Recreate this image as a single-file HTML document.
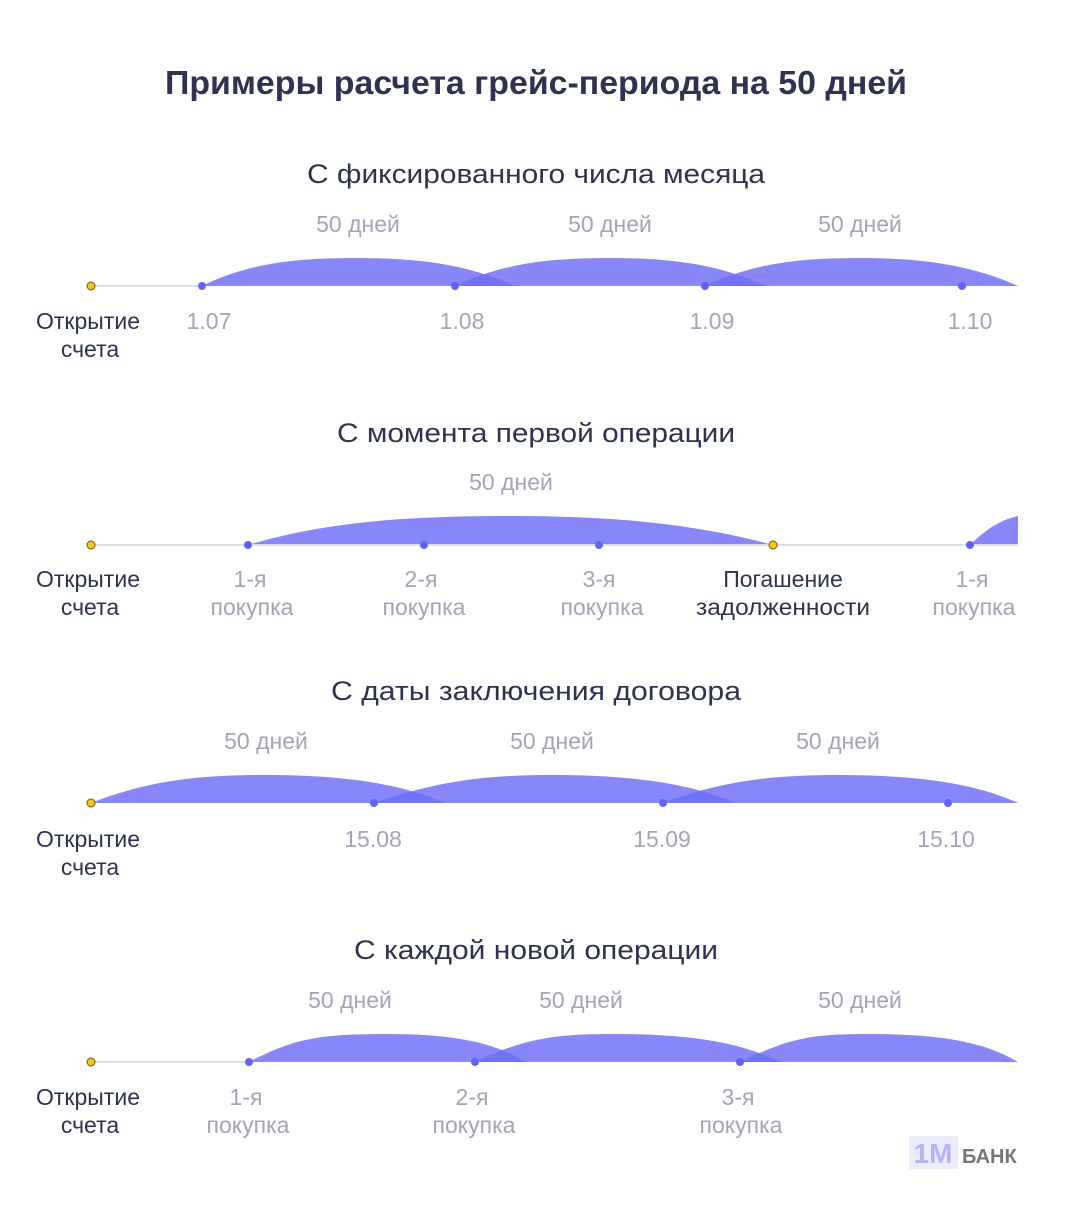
<!DOCTYPE html>
<html><head><meta charset="utf-8"><style>
body{margin:0;background:#fff;}
svg text{font-family:"Liberation Sans",sans-serif;}
</style></head><body>
<svg width="1072" height="1200" xmlns="http://www.w3.org/2000/svg">
<rect width="1072" height="1200" fill="#fff"/>
<text x="536" y="94" text-anchor="middle" font-size="33" font-weight="bold" fill="#2d3350" textLength="742" lengthAdjust="spacingAndGlyphs">Примеры расчета грейс-периода на 50 дней</text>
<g font-size="27" fill="#2d3350" text-anchor="middle">
<text x="536" y="183" textLength="458" lengthAdjust="spacingAndGlyphs">С фиксированного числа месяца</text>
<text x="536" y="442" textLength="398" lengthAdjust="spacingAndGlyphs">С момента первой операции</text>
<text x="536" y="700" textLength="410" lengthAdjust="spacingAndGlyphs">С даты заключения договора</text>
<text x="536" y="959" textLength="364" lengthAdjust="spacingAndGlyphs">С каждой новой операции</text>
</g>
<g fill="#6d6df9" fill-opacity="0.82">
<path d="M202,286 C250,262 300,258 358,258 C420,258 470,265 515,286 Z"/>
<path d="M455,286 C505,262 555,258 610,258 C672,258 722,265 765,286 Z"/>
<path d="M705,286 C755,262 805,258 860,258 C922,258 972,265 1018,286 Z"/>
<path d="M248,545 C330,520 420,516 511,516 C620,516 700,525 773,545 Z"/>
<path d="M970,545 C985,530 1000,520 1018,516 L1018,545 Z"/>
<path d="M91,803 C150,780 200,775 266,775 C340,775 400,783 445,803 Z"/>
<path d="M374,803 C440,780 490,775 552,775 C630,775 690,783 735,803 Z"/>
<path d="M663,803 C725,780 775,775 838,775 C915,775 975,783 1018,803 Z"/>
<path d="M249,1062 C295,1038 320,1034 390,1034 C450,1034 495,1042 525,1062 Z"/>
<path d="M475,1062 C525,1038 555,1034 615,1034 C690,1034 740,1042 780,1062 Z"/>
<path d="M740,1062 C790,1038 810,1034 870,1034 C940,1034 985,1042 1018,1062 Z"/>
</g>
<g stroke="#dcdce4" stroke-width="2">
<line x1="91" y1="286" x2="202" y2="286"/>
<line x1="91" y1="545" x2="1018" y2="545"/>
<line x1="91" y1="1062" x2="249" y2="1062"/>
</g>
<g fill="#6262f7">
<circle cx="202" cy="286" r="4"/><circle cx="455" cy="286" r="4"/><circle cx="705" cy="286" r="4"/><circle cx="962" cy="286" r="4"/>
<circle cx="248" cy="545" r="4"/><circle cx="424" cy="545" r="4"/><circle cx="599" cy="545" r="4"/><circle cx="970" cy="545" r="4"/>
<circle cx="374" cy="803" r="4"/><circle cx="663" cy="803" r="4"/><circle cx="948" cy="803" r="4"/>
<circle cx="249" cy="1062" r="4"/><circle cx="475" cy="1062" r="4"/><circle cx="740" cy="1062" r="4"/>
</g>
<g fill="#f5c518" stroke="#6b5a10" stroke-width="1">
<circle cx="91" cy="286" r="4"/><circle cx="91" cy="545" r="4"/><circle cx="773" cy="545" r="4"/><circle cx="91" cy="803" r="4"/><circle cx="91" cy="1062" r="4"/>
</g>
<g font-size="23" fill="#a3a4b5" text-anchor="middle">
<text x="358" y="232">50 дней</text><text x="610" y="232">50 дней</text><text x="860" y="232">50 дней</text>
<text x="209" y="329">1.07</text><text x="462" y="329">1.08</text><text x="712" y="329">1.09</text><text x="970" y="329">1.10</text>
<text x="511" y="490">50 дней</text>
<text x="250" y="587">1-я</text><text x="252" y="615">покупка</text>
<text x="421" y="587">2-я</text><text x="424" y="615">покупка</text>
<text x="599" y="587">3-я</text><text x="602" y="615">покупка</text>
<text x="972" y="587">1-я</text><text x="974" y="615">покупка</text>
<text x="266" y="749">50 дней</text><text x="552" y="749">50 дней</text><text x="838" y="749">50 дней</text>
<text x="373" y="847">15.08</text><text x="662" y="847">15.09</text><text x="946" y="847">15.10</text>
<text x="350" y="1008">50 дней</text><text x="581" y="1008">50 дней</text><text x="860" y="1008">50 дней</text>
<text x="246" y="1105">1-я</text><text x="248" y="1133">покупка</text>
<text x="472" y="1105">2-я</text><text x="474" y="1133">покупка</text>
<text x="738" y="1105">3-я</text><text x="741" y="1133">покупка</text>
</g>
<g font-size="23" fill="#2d3350" text-anchor="middle">
<text x="88" y="329">Открытие</text><text x="90" y="357">счета</text>
<text x="88" y="587">Открытие</text><text x="90" y="615">счета</text>
<text x="783" y="587">Погашение</text><text x="783" y="615" textLength="174" lengthAdjust="spacingAndGlyphs">задолженности</text>
<text x="88" y="847">Открытие</text><text x="90" y="875">счета</text>
<text x="88" y="1105">Открытие</text><text x="90" y="1133">счета</text>
</g>
<rect x="909" y="1136" width="49" height="33" fill="#ececfd"/>
<text x="933" y="1163" text-anchor="middle" font-size="28" font-weight="bold" fill="#b4b4fa">1M</text>
<text x="962" y="1163" font-size="20" font-weight="bold" fill="#777">БАНК</text>
</svg>
</body></html>
